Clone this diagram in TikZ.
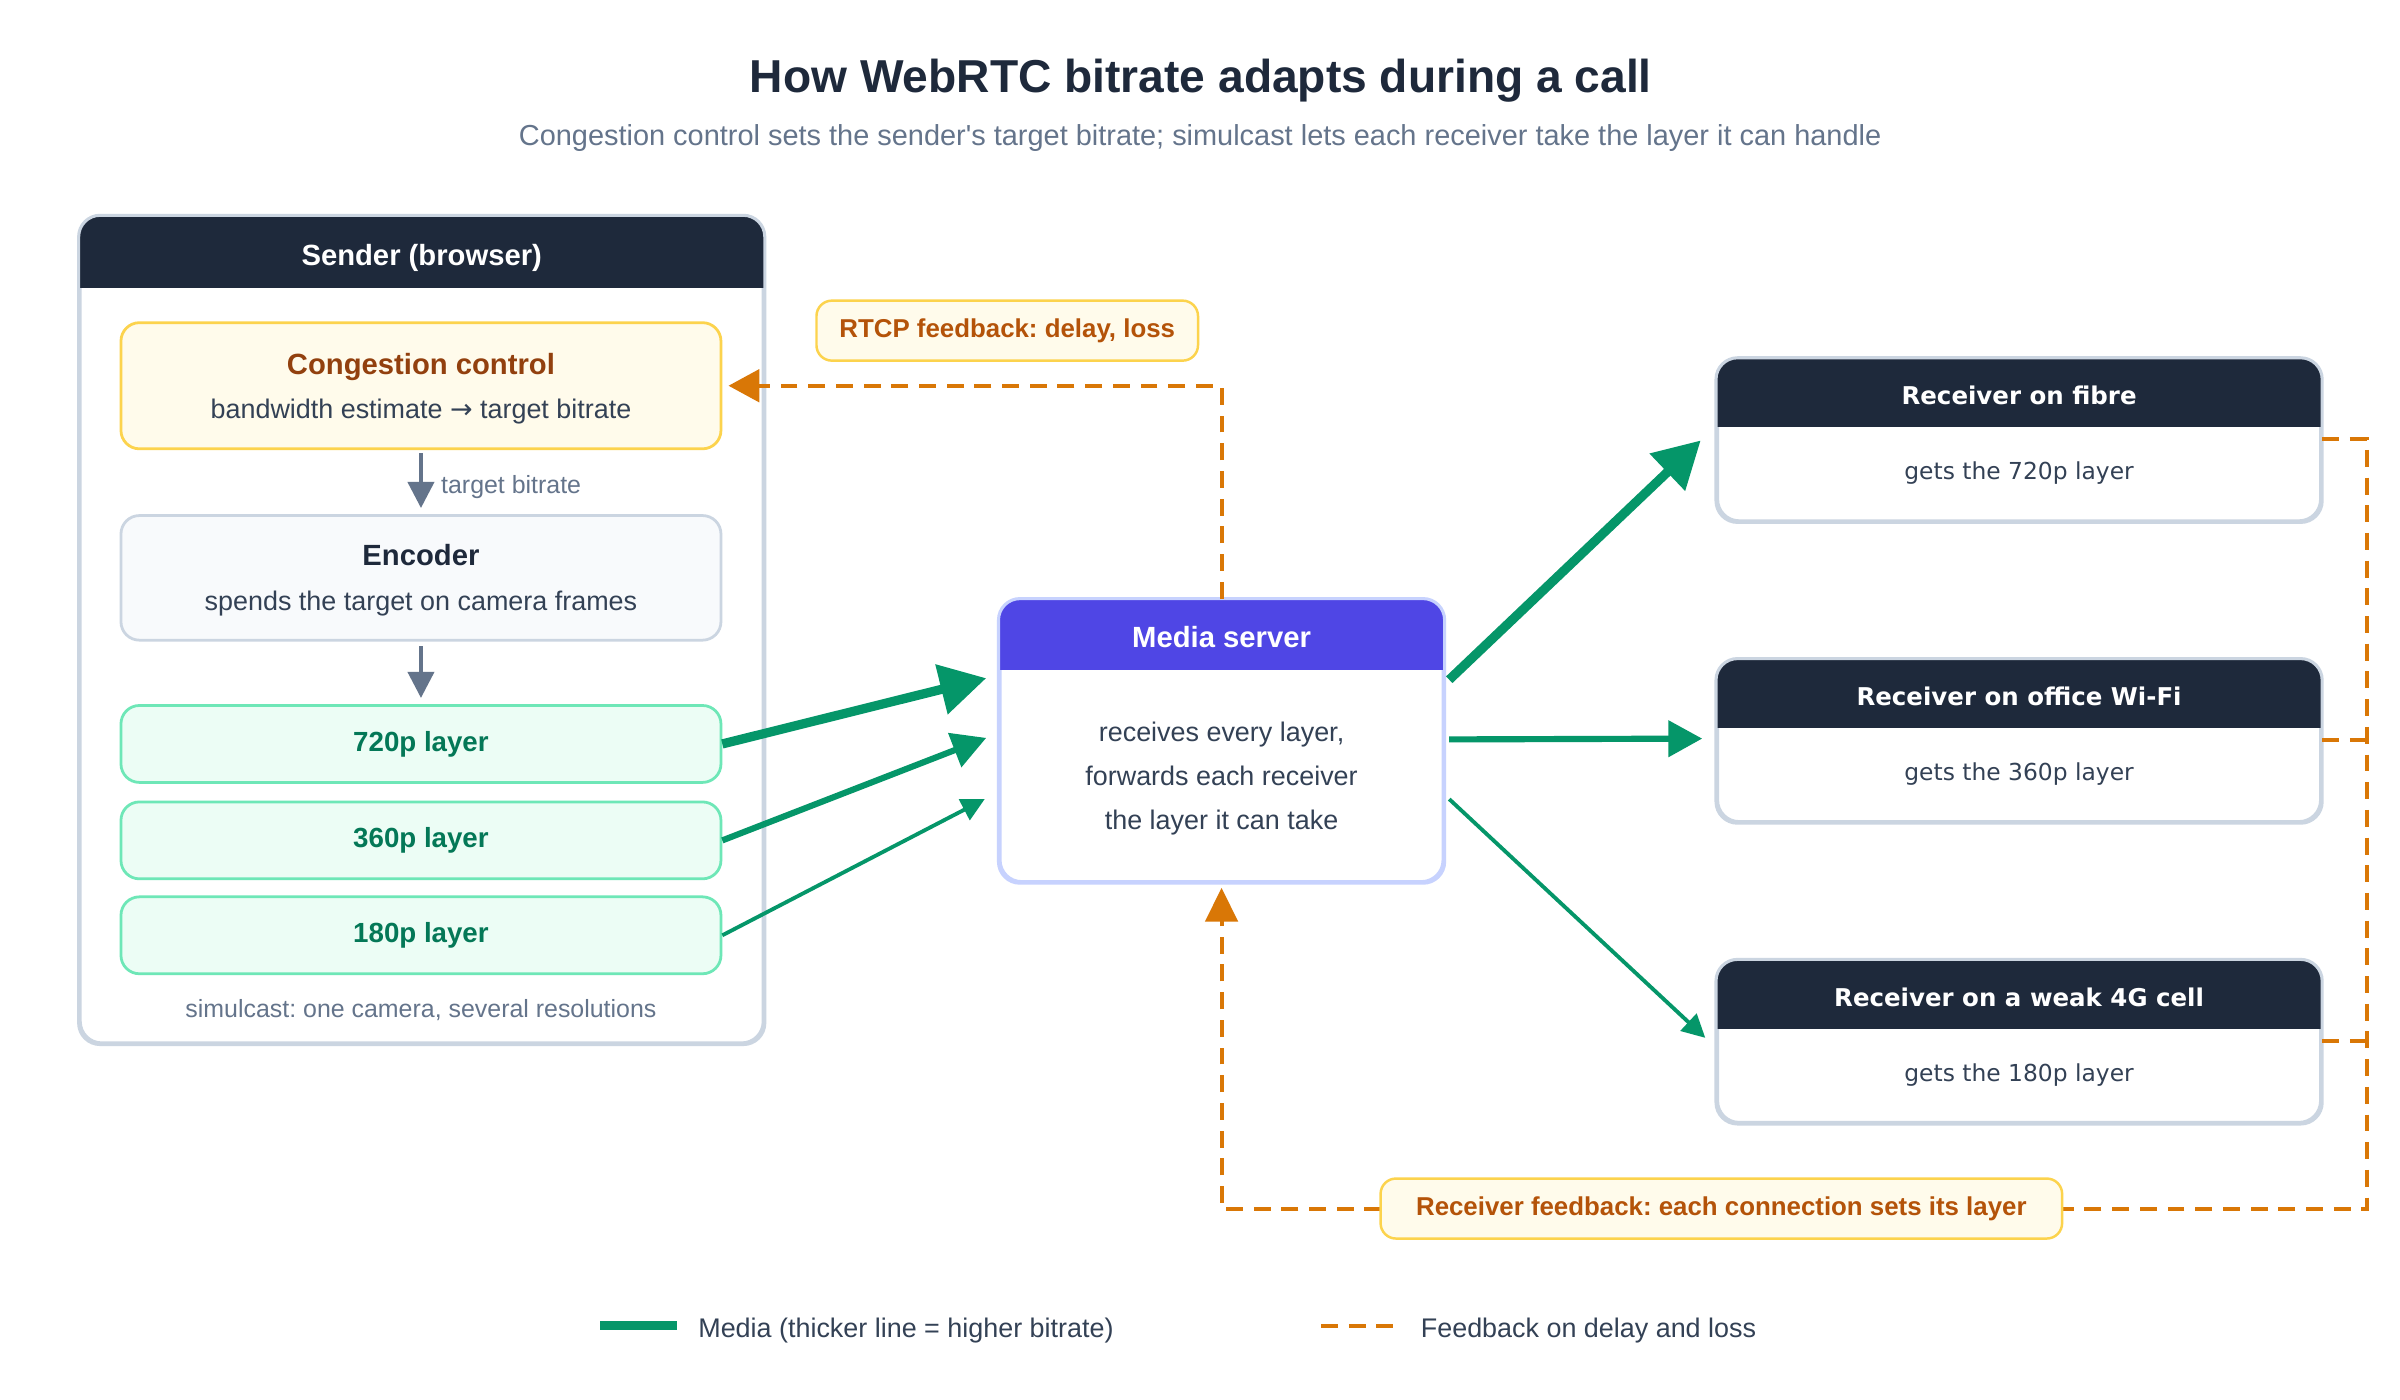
\documentclass[tikz,border=0pt]{standalone}
\usepackage{fontspec}
\setmainfont{Liberation Sans}
\newfontfamily\verafont{DejaVu Sans}
\newfontfamily\rawsans{Liberation Sans}[Ligatures=ResetAll]
\usetikzlibrary{arrows.meta,calc}
\frenchspacing
\definecolor{ink}{HTML}{1E293B}
\definecolor{bodytxt}{HTML}{334155}
\definecolor{slate}{HTML}{64748B}
\definecolor{edge}{HTML}{CBD5E1}
\definecolor{yfill}{HTML}{FFFBEB}
\definecolor{yline}{HTML}{FCD34D}
\definecolor{brown}{HTML}{92400E}
\definecolor{lbltxt}{HTML}{B45309}
\definecolor{gfill}{HTML}{ECFDF5}
\definecolor{gline}{HTML}{6EE7B7}
\definecolor{gtext}{HTML}{047857}
\definecolor{garrow}{HTML}{059669}
\definecolor{indigo}{HTML}{4F46E5}
\definecolor{ilight}{HTML}{C7D2FE}
\definecolor{orange}{HTML}{D97706}
\definecolor{encfill}{HTML}{F8FAFC}
\newcommand\fsTitle{\bfseries\fontsize{30pt}{36pt}\selectfont}
\newcommand\fsSub{\fontsize{18.8pt}{22pt}\selectfont}
\newcommand\fsHead{\bfseries\fontsize{19pt}{23pt}\selectfont}
\newcommand\fsLayer{\bfseries\fontsize{18pt}{22pt}\selectfont}
\newcommand\fsBody{\fontsize{17.5pt}{21pt}\selectfont}
\newcommand\fsSmall{\fontsize{16.2pt}{19pt}\selectfont}
\newcommand\fsLbl{\bfseries\fontsize{16.8pt}{20pt}\selectfont}
\newcommand\fsRecT{\verafont\bfseries\fontsize{15.9pt}{19pt}\selectfont}
\newcommand\fsRecB{\verafont\fontsize{15.2pt}{18pt}\selectfont}
\newcommand\receiverbox[4]{%
  \node[panel, minimum width=392pt, minimum height=105pt] (#1) at (1319,#2) {};
  \begin{scope}
    \clip ($(#1.north west)+(-2,-2)$) rectangle ($(#1.north east)+(2,45)$);
    \fill[ink, rounded corners=14pt] (#1.north west) rectangle (#1.south east);
  \end{scope}
  \draw[edge, line width=2pt, rounded corners=14pt] (#1.north west) rectangle (#1.south east);
  \node[txt, font=\fsRecT, text=white] (#1T) at ($(#1.north)+(0,25)$) {#3};
  \node[txt, font=\fsRecB, text=bodytxt] (#1B) at ($(#1.north)+(0,74)$) {#4};
}
\begin{document}
\begin{tikzpicture}[x=0.995pt,y=-0.995pt,
  panel/.style={draw=edge, line width=2pt, rounded corners=14pt, fill=white, inner sep=0pt},
  box/.style={line width=1.8pt, rounded corners=12pt, inner sep=0pt, minimum width=390pt},
  txt/.style={inner sep=0pt, anchor=mid, yshift=-3pt},
  lbl/.style={fill=yfill, draw=yline, line width=1.6pt, rounded corners=10pt, text=lbltxt, font=\fsLbl, inner sep=0pt},
  fb/.style={draw=orange, line width=2.6pt, dash pattern=on 11pt off 7pt},
  media/.style={draw=garrow, fill=garrow},
  gray/.style={draw=slate, line width=2.5pt, -{Triangle[length=17pt,width=17pt]}},
]
\useasboundingbox (0,0) rectangle (1567.84,914.57);
\fill[white] (0,0) rectangle (1567.84,914.57);

% title
\node[txt, font=\fsTitle, text=ink, yshift=-5pt] (title) at (784.5,50) {How WebRTC bitrate adapts during a call};
\node[txt, font=\fsSub, text=slate, yshift=-1.5pt] (subtitle) at (784,88) {Congestion control sets the sender{\rawsans '}s target bitrate; simulcast lets each receiver take the layer it can handle};

% sender panel
\node[panel, minimum width=444pt, minimum height=537pt] (sender) at (275.5,411.5) {};
\begin{scope}
  \clip ($(sender.north west)+(-2,-2)$) rectangle ($(sender.north east)+(2,47)$);
  \fill[ink, rounded corners=14pt] (sender.north west) rectangle (sender.south east);
\end{scope}
\draw[edge, line width=2pt, rounded corners=14pt] (sender.north west) rectangle (sender.south east);
\node[txt, font=\fsHead, text=white] (senderT) at ($(sender.north)+(0,27)$) {Sender (browser)};

\node[box, fill=yfill, draw=yline, minimum height=82pt] (cc) at (275,252) {};
\node[txt, font=\fsHead, text=brown] (ccT) at (275,239) {Congestion control};
\node[txt, font=\fsBody, text=bodytxt] (ccB) at (275,268) {bandwidth estimate {\verafont →} target bitrate};

\node[box, fill=encfill, draw=edge, minimum height=81pt] (enc) at (275,377.5) {};
\node[txt, font=\fsHead, text=ink] (encT) at (275,364) {Encoder};
\node[txt, font=\fsBody, text=bodytxt] (encB) at (275,393) {spends the target on camera frames};

\node[box, fill=gfill, draw=gline, minimum height=50pt, text=gtext, font=\fsLayer] (l720) at (275,486) {720p layer};
\node[box, fill=gfill, draw=gline, minimum height=50pt, text=gtext, font=\fsLayer] (l360) at (275,549) {360p layer};
\node[box, fill=gfill, draw=gline, minimum height=50pt, text=gtext, font=\fsLayer] (l180) at (275,611) {180p layer};
\node[txt, font=\fsSmall, text=slate] (simul) at (275,659) {simulcast: one camera, several resolutions};

\draw[gray, shorten <=2pt, shorten >=4pt] (cc.south) -- (enc.north);
\node[txt, font=\fsSmall, text=slate, anchor=west] (tb) at (288,315) {target bitrate};
\draw[gray, shorten <=3pt, shorten >=4pt] (enc.south) -- (l720.north);

% media server
\node[panel, draw=ilight, minimum width=288pt, minimum height=183pt] (ms) at (798,484) {};
\begin{scope}
  \clip ($(ms.north west)+(-2,-2)$) rectangle ($(ms.north east)+(2,46)$);
  \fill[indigo, rounded corners=14pt] (ms.north west) rectangle (ms.south east);
\end{scope}
\draw[ilight, line width=2pt, rounded corners=14pt] (ms.north west) rectangle (ms.south east);
\node[txt, font=\fsHead, text=white] (msT) at ($(ms.north)+(0,26)$) {Media server};
\node[txt, font=\fsBody, text=bodytxt] (msB1) at (798,479) {receives every layer,};
\node[txt, font=\fsBody, text=bodytxt] (msB2) at (798,507.5) {forwards each receiver};
\node[txt, font=\fsBody, text=bodytxt] (msB3) at (798,536) {the layer it can take};

% receivers
\receiverbox{rfib}{287.5}{Receiver on fibre}{gets the 720p layer}
\receiverbox{rwif}{484}{Receiver on office Wi-Fi}{gets the 360p layer}
\receiverbox{rg4}{680.5}{Receiver on a weak 4G cell}{gets the 180p layer}

% media arrows in
\coordinate (t720) at ($(ms.north west)+(-8,52)$);
\coordinate (t360) at ($(ms.north west)+(-8,91)$);
\coordinate (t180) at ($(ms.north west)+(-9,131)$);
\draw[media, line width=6pt, -{Triangle[length=30pt,width=32pt]}] (l720.east) -- (t720);
\draw[media, line width=4pt, -{Triangle[length=22pt,width=23pt]}] (l360.east) -- (t360);
\draw[media, line width=2.5pt, -{Triangle[length=15pt,width=15pt]}] (l180.east) -- (t180);

% media arrows out
\coordinate (s1) at ($(ms.north east)+(3,53)$);
\coordinate (s2) at ($(ms.north east)+(3,92)$);
\coordinate (s3) at ($(ms.north east)+(3,131)$);
\coordinate (e1) at ($(rfib.north west)+(-10,54)$);
\coordinate (e2) at ($(rwif.west)+(-9,-1.5)$);
\coordinate (e3) at ($(rg4.west)+(-7,-2.5)$);
\draw[media, line width=6pt, -{Triangle[length=30pt,width=32pt]}] (s1) -- (e1);
\draw[media, line width=4pt, -{Triangle[length=22pt,width=23pt]}] (s2) -- (e2);
\draw[media, line width=2.5pt, -{Triangle[length=15pt,width=15pt]}] (s3) -- (e3);

% feedback paths
\draw[fb, -{Triangle[length=20pt,width=21pt]}, shorten >=4pt] (ms.north) |- (cc.east);
\node[lbl, minimum width=248pt, minimum height=39pt] (rtcp) at (658,216) {RTCP feedback: delay, loss};

\coordinate (fbx) at (1546,790);
\coordinate (fibS) at ($(rfib.north east)+(0,53)$);
\coordinate (wifS) at ($(rwif.north east)+(0,53)$);
\coordinate (g4S) at ($(rg4.north east)+(0,53)$);
\draw[fb, -{Triangle[length=22pt,width=21pt]}, shorten >=3pt] (fibS) -| (fbx) -| (ms.south);
\draw[fb] (wifS) -- (wifS -| fbx);
\draw[fb] (g4S) -- (g4S -| fbx);
\node[lbl, minimum width=443pt, minimum height=39pt] (rfb) at (1124.5,789.5) {Receiver feedback: each connection sets its layer};

% legend
\coordinate (lg1) at (392,866);
\coordinate (lg2) at (442,866);
\draw[draw=garrow, line width=6pt] (lg1) -- (lg2);
\node[txt, font=\fsBody, text=bodytxt, anchor=west] (lgT1) at (456,866) {Media (thicker line = higher bitrate)};
\coordinate (lg3) at (863,866);
\coordinate (lg4) at (910,866);
\draw[fb] (lg3) -- (lg4);
\node[txt, font=\fsBody, text=bodytxt, anchor=west] (lgT2) at (928,866) {Feedback on delay and loss};
\end{tikzpicture}
\end{document}
